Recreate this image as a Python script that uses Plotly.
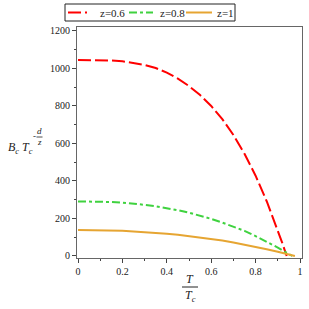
import plotly.graph_objects as go

# data
t_06 = [0, 0.05, 0.1, 0.15, 0.2, 0.25, 0.3, 0.35, 0.4, 0.45, 0.5, 0.55, 0.6, 0.65, 0.7, 0.75, 0.8, 0.85, 0.9, 0.92, 0.94]
b_06 = [1045, 1045, 1044, 1042, 1038, 1030, 1019, 1002, 978, 946, 906, 858, 800, 730, 645, 545, 428, 292, 138, 70, 0]

t_08 = [0, 0.05, 0.1, 0.15, 0.2, 0.25, 0.3, 0.35, 0.4, 0.45, 0.5, 0.55, 0.6, 0.65, 0.7, 0.75, 0.8, 0.85, 0.9, 0.92, 0.94, 0.965]
b_08 = [291, 291, 290, 288, 284, 280, 273, 265, 256, 244, 231, 216, 198, 178, 158, 134, 106, 77, 45, 31, 18, 0]

t_1 = [0, 0.05, 0.1, 0.15, 0.2, 0.25, 0.3, 0.35, 0.4, 0.45, 0.5, 0.55, 0.6, 0.65, 0.7, 0.75, 0.8, 0.85, 0.9, 0.92, 0.94, 0.977]
b_1 = [138, 138, 137, 136, 134, 131, 128, 124, 119, 113, 106, 99, 91, 82, 72, 61, 49, 36, 23, 17, 11, 0]

labels = ["z=0.6", "z=0.8", "z=1"]

L, R, T, B = 77, 7, 27, 51
W = H = 309
PW = W - L - R
PH = H - T - B


def px(x):
    return (x - L) / PW


def py(y):
    return (H - B - y) / PH


FONT = '"Liberation Serif", "Times New Roman", serif'

styles = [
    dict(color="#ff0000", width=2, dash="13px,4px"),
    dict(color="#3fd23f", width=2, dash="8px,3px,3px,3px"),
    dict(color="#e6a532", width=2),
]

fig = go.Figure()
for tx, by, name, st in zip([t_06, t_08, t_1], [b_06, b_08, b_1], labels, styles):
    fig.add_trace(go.Scatter(x=tx, y=by, mode="lines", name=name, line=st, showlegend=False))

axis_common = dict(
    showgrid=False, zeroline=False, showline=True, linecolor="#666", linewidth=1,
    mirror=True, ticks="outside", ticklen=4, tickcolor="#444",
    tickfont=dict(family=FONT, size=10, color="#222"),
)
fig.update_xaxes(range=[-0.0045, 1.009], tickvals=[0, 0.2, 0.4, 0.6, 0.8, 1],
                 ticktext=["0", "0.2", "0.4", "0.6", "0.8", "1"],
                 minor=dict(dtick=0.1, tick0=0, ticklen=2, ticks="outside", tickcolor="#444"),
                 **axis_common)
fig.update_yaxes(range=[-10.7, 1221], tickvals=[0, 200, 400, 600, 800, 1000, 1200],
                 minor=dict(dtick=100, tick0=0, ticklen=2, ticks="outside", tickcolor="#444"),
                 **axis_common)

annotations = [
    dict(x=px(190), y=py(279), text="<i>T</i>", showarrow=False, xref="paper", yref="paper",
         font=dict(family=FONT, size=12, color="#222"), xanchor="center", yanchor="middle"),
    dict(x=px(190), y=py(296), text="<i>T</i><sub><i>c</i></sub>", showarrow=False, xref="paper", yref="paper",
         font=dict(family=FONT, size=12, color="#222"), xanchor="center", yanchor="middle"),
    dict(x=px(6), y=py(148), text="<i>B</i><sub><i>c</i></sub> <i>T</i><sub><i>c</i></sub>", showarrow=False,
         xref="paper", yref="paper", font=dict(family=FONT, size=12, color="#222"),
         xanchor="left", yanchor="middle"),
    dict(x=px(34), y=py(136), text="-", showarrow=False, xref="paper", yref="paper",
         font=dict(family=FONT, size=9, color="#222"), xanchor="center", yanchor="middle"),
    dict(x=px(39.5), y=py(131), text="<i>d</i>", showarrow=False, xref="paper", yref="paper",
         font=dict(family=FONT, size=9, color="#222"), xanchor="center", yanchor="middle"),
    dict(x=px(39.5), y=py(142), text="<i>z</i>", showarrow=False, xref="paper", yref="paper",
         font=dict(family=FONT, size=9, color="#222"), xanchor="center", yanchor="middle"),
]
shapes = [
    dict(type="line", xref="paper", yref="paper", x0=px(182), x1=px(198), y0=py(287), y1=py(287),
         line=dict(color="#222", width=1)),
    dict(type="line", xref="paper", yref="paper", x0=px(36.5), x1=px(42.5), y0=py(137), y1=py(137),
         line=dict(color="#222", width=0.8)),
    # legend frame
    dict(type="rect", xref="paper", yref="paper", x0=px(65), x1=px(235), y0=py(21), y1=py(4),
         line=dict(color="#222", width=1), fillcolor="rgba(0,0,0,0)"),
]

# legend entries (sample line x-range, text left x)
leg_pos = [(68, 87, 98), (129, 153, 158), (186, 212, 215)]
for (x0, x1, xt), name, st in zip(leg_pos, labels, styles):
    shapes.append(dict(type="line", xref="paper", yref="paper", x0=px(x0), x1=px(x1),
                       y0=py(12.5), y1=py(12.5), line=st))
    annotations.append(dict(x=px(xt), y=py(13), text=name, showarrow=False, xref="paper", yref="paper",
                            font=dict(family=FONT, size=11, color="#222"), xanchor="left",
                            yanchor="middle"))

fig.update_layout(
    width=W, height=H, margin=dict(l=L, r=R, t=T, b=B, autoexpand=False),
    paper_bgcolor="white", plot_bgcolor="white",
    font=dict(family=FONT, size=10, color="#222"),
    showlegend=False,
    annotations=annotations, shapes=shapes,
)

fig.write_html("out.html", config={"displayModeBar": False},
               post_script="document.body.style.margin='0';document.body.style.padding='0';")
